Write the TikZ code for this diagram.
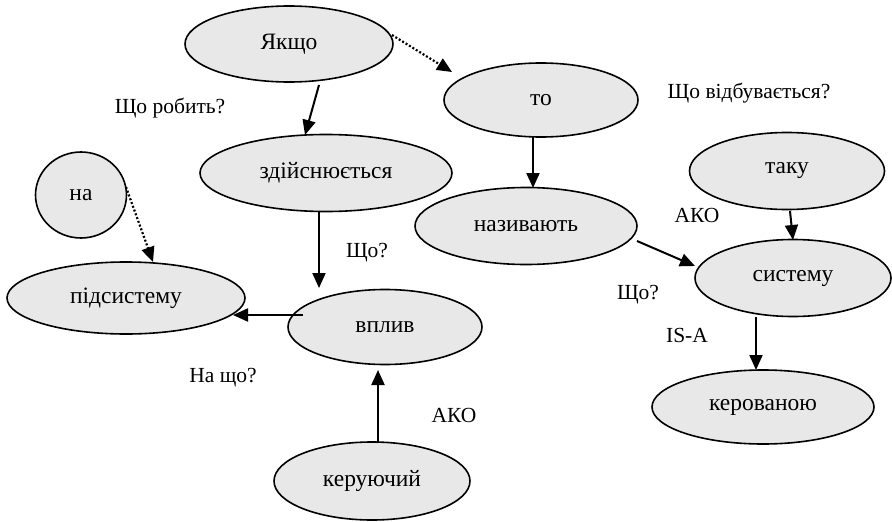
\documentclass[tikz,border=0pt]{standalone}
\usepackage{fontspec}
\setmainfont{Liberation Serif}
\usetikzlibrary{shapes.geometric,arrows.meta,calc}

\definecolor{nodefill}{HTML}{E8E8E8}

\tikzset{
  concept/.style={ellipse, draw=black, line width=1.6pt, fill=nodefill,
    inner sep=0pt, font=\fontsize{23.5}{26}\selectfont},
  link/.style={line width=2pt, -{Triangle[length=15pt,width=13pt]}},
  dotlink/.style={line width=2.2pt, dash pattern=on 2pt off 2pt,
    -{Triangle[length=15pt,width=13pt]}},
  tag/.style={font=\fontsize{21.5}{24}\selectfont, inner sep=0pt}
}

\begin{document}
\begin{tikzpicture}[x=1pt, y=-1pt]
  \useasboundingbox (0,0) rectangle (892,522);

  % concepts
  \node[concept, minimum width=208, minimum height=76] (yak)   at (289,44)  {Якщо};
  \node[concept, minimum width=194, minimum height=74] (to)    at (541,100) {то};
  \node[concept, minimum width=252, minimum height=77] (zd)    at (326,173) {здійснюється};
  \node[concept, minimum width=91,  minimum height=86] (na)    at (81,195)  {на};
  \node[concept, minimum width=238, minimum height=72] (pod)   at (126,298) {підсистему};
  \node[concept, minimum width=194, minimum height=75] (vp)    at (385,327) {вплив};
  \node[concept, minimum width=196, minimum height=78] (ker)   at (372,481) {керуючий};
  \node[concept, minimum width=222, minimum height=77] (naz)   at (526,226) {називають};
  \node[concept, minimum width=195, minimum height=77] (taku)  at (787,171) {таку};
  \node[concept, minimum width=196, minimum height=77] (sys)   at (793,278) {систему};
  \node[concept, minimum width=222, minimum height=74] (kerov) at (763,407) {керованою};

  % relations
  \draw[link]    ($(yak)+(30,41)$)   -- ($(zd)+(-21,-38)$);
  \draw[dotlink] ($(yak)+(103,-9)$)  -- ($(to)+(-89,-28)$);
  \draw[link]    ($(to)+(-8,37)$)    -- ($(naz)+(7,-38)$);
  \draw[link]    ($(zd)+(-7,39)$)    -- ($(vp)+(-66,-39)$);
  \draw[dotlink] ($(na)+(45,-8)$)    -- ($(pod)+(27,-36)$);
  \draw[link]    ($(vp)+(-82,-12)$)  -- ($(pod)+(107,17)$);
  \draw[link]    ($(ker)+(6,-38)$)   -- ($(vp)+(-7,43)$);
  \draw[link]    ($(naz)+(111,15)$)  -- ($(sys)+(-98,-12)$);
  \draw[link]    ($(taku)+(3,40)$)   -- ($(sys)+(0,-38)$);
  \draw[link]    ($(sys)+(-37,39)$)  -- ($(kerov)+(-7,-37)$);

  % relation labels
  \node[tag] (l1) at (170,108) {Що робить?};
  \node[tag] (l2) at (749,93)  {Що відбувається?};
  \node[tag] (l3) at (367,253) {Що?};
  \node[tag] (l4) at (697,215) {АКО};
  \node[tag] (l5) at (638,295) {Що?};
  \node[tag] (l6) at (687,335) {IS-A};
  \node[tag] (l7) at (223,378) {На що?};
  \node[tag] (l8) at (454,415) {АКО};
\end{tikzpicture}
\end{document}
